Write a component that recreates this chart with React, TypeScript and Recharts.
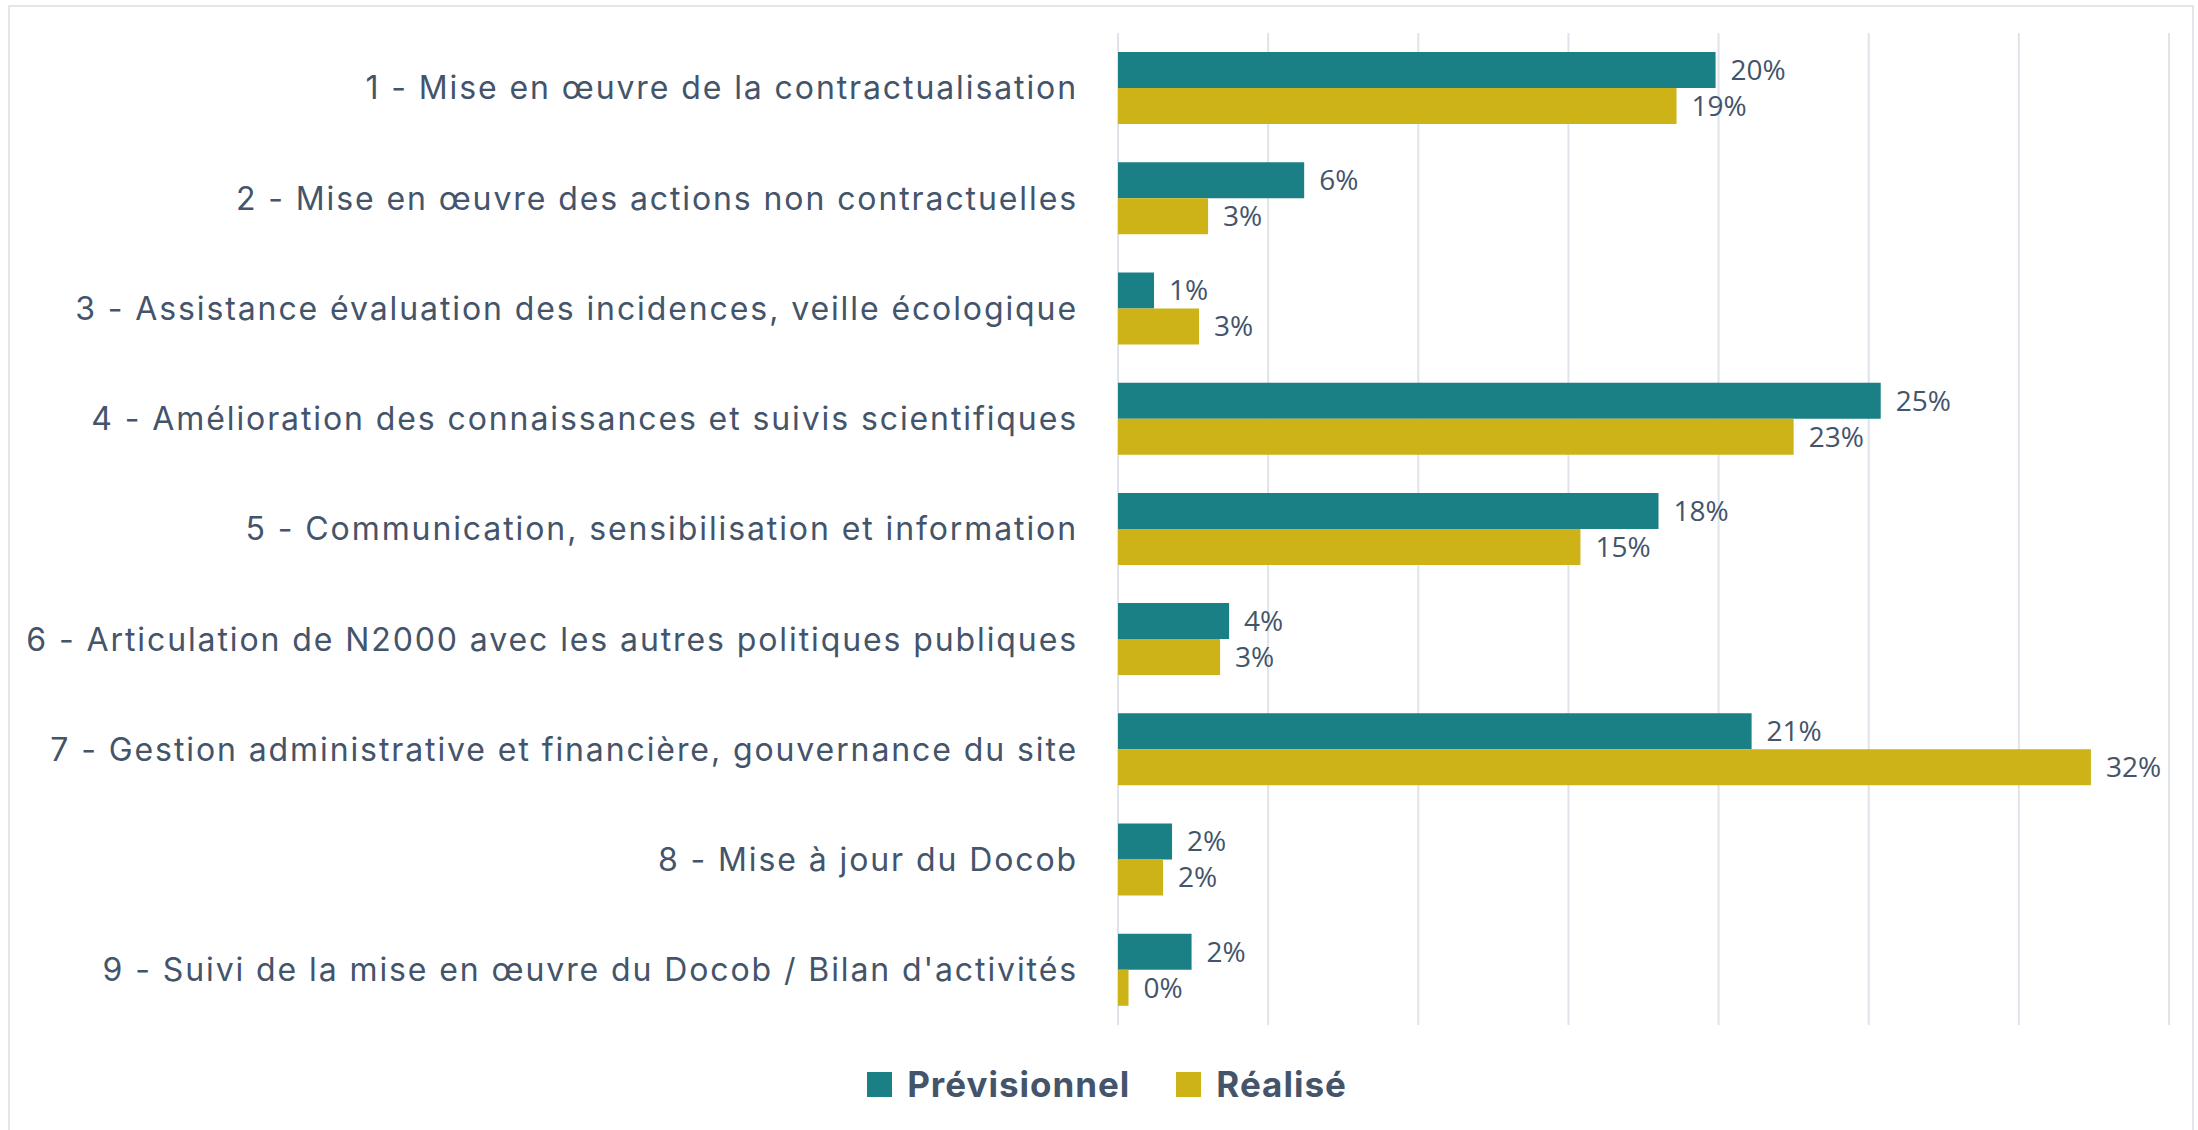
import { BarChart, Bar, XAxis, YAxis, CartesianGrid, Legend, LabelList } from 'recharts';

const categories = [
  '1 - Mise en œuvre de la contractualisation',
  '2 - Mise en œuvre des actions non contractuelles',
  '3 - Assistance évaluation des incidences, veille écologique',
  '4 - Amélioration des connaissances et suivis scientifiques',
  '5 - Communication, sensibilisation et information',
  '6 - Articulation de N2000 avec les autres politiques publiques',
  '7 - Gestion administrative et financière, gouvernance du site',
  '8 - Mise à jour du Docob',
  "9 - Suivi de la mise en œuvre du Docob / Bilan d'activités",
];
const previsionnel = [19.9, 6.2, 1.2, 25.4, 18.0, 3.7, 21.1, 1.8, 2.45];
const realise = [18.6, 3.0, 2.7, 22.5, 15.4, 3.4, 32.4, 1.5, 0.35];
const xTicks = [0, 5, 10, 15, 20, 25, 30, 35];

const TEAL = '#1a8085';
const GOLD = '#cdb317';
const TEXT = '#44546a';

const data = categories.map((name, i) => ({
  name,
  previsionnel: previsionnel[i],
  realise: realise[i],
}));

const pct = (v: any) => `${Math.round(Number(v))}%`;

const LegendContent = () => (
  <div style={{ height: 52, paddingLeft: 16, display: 'flex', alignItems: 'center', justifyContent: 'center', gap: 46, fontFamily: 'Inter', fontWeight: 700, fontSize: 35, letterSpacing: 1, color: TEXT }}>
    {[{ label: 'Prévisionnel', color: TEAL }, { label: 'Réalisé', color: GOLD }].map((it) => (
      <div key={it.label} style={{ display: 'flex', alignItems: 'center', gap: 15 }}>
        <span style={{ width: 25, height: 25, background: it.color, display: 'inline-block' }} />
        <span>{it.label}</span>
      </div>
    ))}
  </div>
);

export default function App() {
  return (
    <div style={{ position: 'absolute', left: 0, top: 0, width: 2198, height: 1130, background: '#fff', overflow: 'hidden' }}>
      <div style={{ position: 'absolute', left: 8, top: 5, width: 2186, height: 1140, border: '2px solid #e2e5ec', boxSizing: 'border-box' }} />
      <div style={{ position: 'absolute', left: 0, top: 0 }}>
        <BarChart
          width={2198}
          height={1130}
          data={data}
          layout="vertical"
          margin={{ top: 33, right: 29, left: 0, bottom: 53 }}
          barGap={0}
        >
          <CartesianGrid horizontal={false} stroke="#dfe3ea" strokeWidth={2} />
          <XAxis type="number" domain={[0, 35]} ticks={xTicks} hide />
          <YAxis
            type="category"
            dataKey="name"
            width={1118}
            tickSize={0}
            tickMargin={40}
            axisLine={false}
            tickLine={false}
            interval={0}
            tick={{ fill: TEXT, fontSize: 32, fontFamily: 'Inter', letterSpacing: 1.9 }}
          />
          <Legend verticalAlign="bottom" content={<LegendContent />} wrapperStyle={{ top: 1058, left: 0, width: 2198 }} />
          <Bar dataKey="previsionnel" name="Prévisionnel" fill={TEAL} barSize={36} isAnimationActive={false}>
            <LabelList dataKey="previsionnel" position="right" offset={15} formatter={pct} fill={TEXT} fontSize={28} fontFamily="Open Sans" />
          </Bar>
          <Bar dataKey="realise" name="Réalisé" fill={GOLD} barSize={36} isAnimationActive={false}>
            <LabelList dataKey="realise" position="right" offset={15} formatter={pct} fill={TEXT} fontSize={28} fontFamily="Open Sans" />
          </Bar>
        </BarChart>
      </div>
    </div>
  );
}
